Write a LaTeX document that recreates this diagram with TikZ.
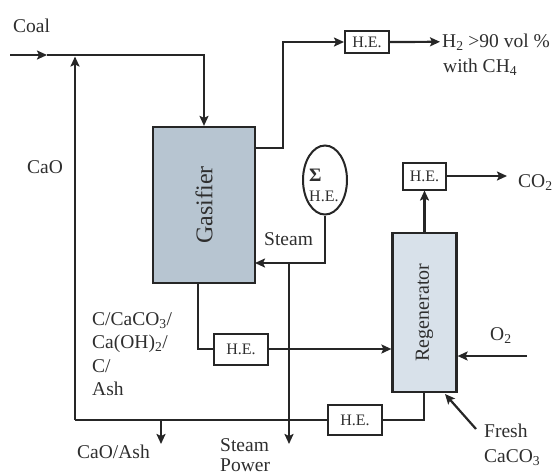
\documentclass[tikz,border=0pt]{standalone}
\usepackage{fontspec}
\setmainfont{Liberation Serif}
\usetikzlibrary{arrows.meta,shapes.geometric}
\definecolor{lc}{HTML}{262626}
\definecolor{tc}{HTML}{2E2E2E}
\definecolor{gasc}{HTML}{B7C5D1}
\definecolor{regc}{HTML}{D8E1EA}
\begin{document}
\begin{tikzpicture}[x=1pt,y=-1pt,
  ln/.style={draw=lc, line width=2.2pt},
  arr/.style={ln, -{Stealth[length=10pt,width=9pt,inset=2pt]}},
  hebox/.style={draw=lc, line width=2pt, fill=white, inner sep=0pt, font=\fontsize{16}{16}\selectfont, text=tc},
  lbl/.style={font=\fontsize{19.5}{22}\selectfont, text=tc, inner sep=0pt},
  reactor/.style={draw=lc, line width=2.2pt, inner sep=0pt}]
\useasboundingbox (0,0) rectangle (555,475);
% reactors
\node[reactor, fill=gasc, minimum width=102pt, minimum height=156pt] (gas) at (204,205) {};
\node[lbl, rotate=90, font=\fontsize{24}{24}\selectfont] (gastxt) at (gas.center) {Gasifier};
\node[reactor, fill=regc, minimum width=64pt, minimum height=159pt] (reg) at (424.5,312.5) {};
\node[lbl, rotate=90, font=\fontsize{20}{20}\selectfont] (regtxt) at (reg.center) {Regenerator};
% heat exchangers
\node[hebox, minimum width=44pt, minimum height=22pt] (he1) at (367,42) {H.E.};
\node[hebox, minimum width=43pt, minimum height=27pt] (he2) at (424.5,176) {H.E.};
\node[hebox, minimum width=54pt, minimum height=31pt] (he3) at (241,349) {H.E.};
\node[hebox, minimum width=54pt, minimum height=30pt] (he4) at (355,420) {H.E.};
\node[ellipse, draw=lc, line width=2pt, minimum width=44pt, minimum height=69pt, inner sep=0pt] (sum) at (325,180) {};
\node[font=\fontsize{19}{19}\selectfont\bfseries, text=tc, inner sep=0pt, anchor=base west] (sig) at (309,181) {Σ};
\node[font=\fontsize{16}{16}\selectfont, text=tc, inner sep=0pt, anchor=base west] (sumhe) at (309,201) {H.E.};
% labels
\node[lbl, anchor=base west] (coal) at (13,32) {Coal};
\node[lbl, anchor=base west] (cao) at (27,173) {CaO};
\node[lbl, anchor=base west] (h2) at (442,47) {H\textsubscript{2} >90 vol \%};
\node[lbl, anchor=base west] (ch4) at (443,72) {with CH\textsubscript{4}};
\node[lbl, anchor=base west] (co2) at (518,187) {CO\textsubscript{2}};
\node[lbl, anchor=base west] (o2) at (490,340) {O\textsubscript{2}};
\node[lbl, anchor=base west] (fresh) at (484,437) {Fresh};
\node[lbl, anchor=base west] (caco3) at (484,462) {CaCO\textsubscript{3}};
\node[lbl, anchor=base west] (steam) at (264,245) {Steam};
\node[lbl, anchor=base west] (steamb) at (220,451) {Steam};
\node[lbl, anchor=base west] (power) at (220,471) {Power};
\node[lbl, anchor=base west] (caoash) at (77,458) {CaO/Ash};
\node[lbl, anchor=base west] (s1) at (92,325) {C/CaCO\textsubscript{3}/};
\node[lbl, anchor=base west] (s2) at (92,348) {Ca(OH)\textsubscript{2}/};
\node[lbl, anchor=base west] (s3) at (92,372) {C/};
\node[lbl, anchor=base west] (s4) at (92,395) {Ash};
% coordinates
\coordinate (coalin) at (10,55);
\coordinate (coalmid) at (47,55);
\coordinate (gasout) at (255,148);
\coordinate (b1) at (283,42);
\coordinate (caocorner) at (75,420);
\coordinate (caotop) at (75,56.5);
\coordinate (ashtop) at (161,420);
\coordinate (ashend) at (161,444);
\coordinate (steamsplit) at (289,263);
\coordinate (steamend) at (289,444);
\coordinate (steamin) at (255,263);
\coordinate (gasbot) at (198,283);
\coordinate (o2in) at (527,356);
\coordinate (freshin) at (476,429);
\coordinate (freshend) at (445,394);
\coordinate (regbot) at (424,391.5);
% connectors
\draw[arr] (coalin) -- (coalmid);
\draw[arr] (coalmid) -| (gas.north);
\draw[arr] (caocorner) -- (caotop);
\draw[ln] (he4.west) -- (caocorner);
\draw[arr] (ashtop) -- (ashend);
\draw[arr] (gasout) -| (b1) -- (he1.west);
\draw[arr] (he1.east) -- ([xshift=-2pt]h2.west);
\draw[arr] (sum.south) |- (steamin);
\draw[arr] (steamsplit) -- (steamend);
\draw[ln] (gasbot) |- (he3.west);
\draw[arr] (he3.east) -- (reg.west |- he3.east);
\draw[arr] (reg.north) -- (he2.south);
\draw[arr] (he2.east) -- (507,176);
\draw[arr] (o2in) -- (reg.east |- o2in);
\draw[arr] (freshin) -- (freshend);
\draw[ln] (regbot) |- (he4.east);
\end{tikzpicture}
\end{document}
